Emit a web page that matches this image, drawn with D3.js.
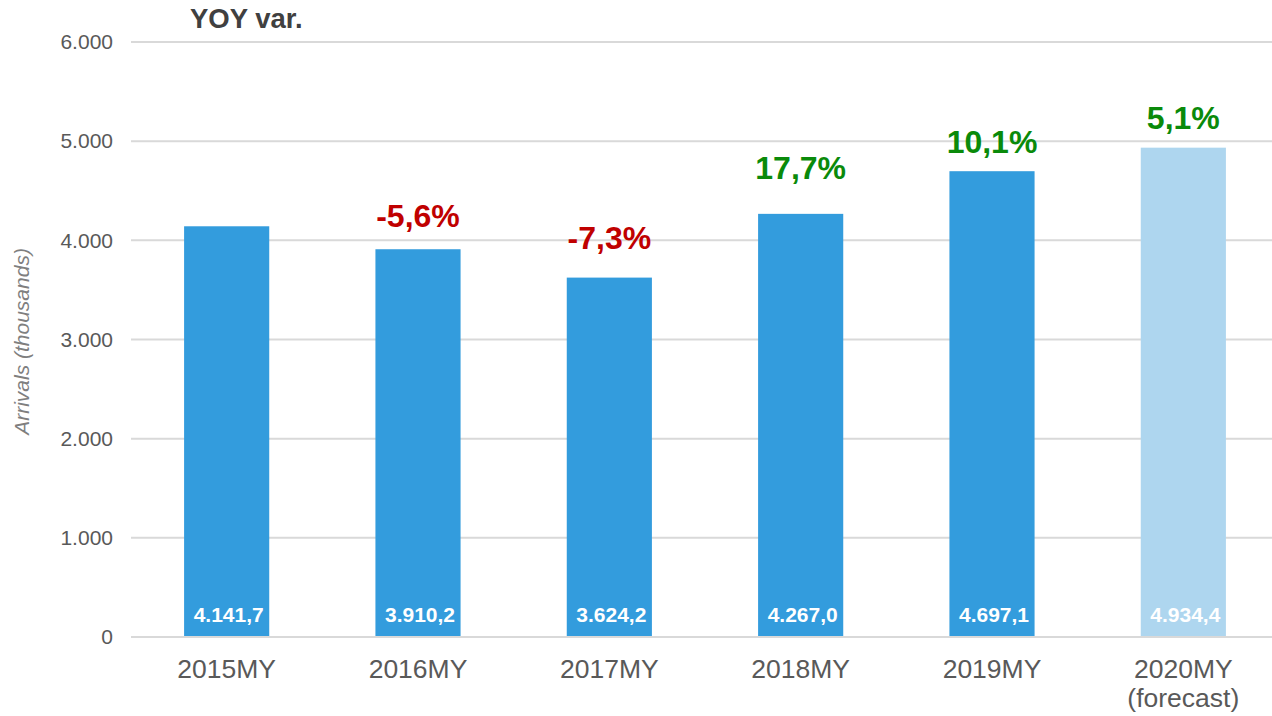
<html>
<head>
	<meta charset="UTF-8">
	<title>Arrivals</title>
	<style>
		body { margin: 0; background: #fff; }
		text { font-family: Arial, "Liberation Sans", sans-serif; }
	</style>
</head>
<body>
	<script src="https://cdnjs.cloudflare.com/ajax/libs/d3/7.8.5/d3.min.js"></script>
	<script>
		// data
		var years = ["2015MY", "2016MY", "2017MY", "2018MY", "2019MY", "2020MY"];
		var arrivals = [4141.7, 3910.2, 3624.2, 4267.0, 4697.1, 4934.4];
		var yoy = [null, -5.6, -7.3, 17.7, 10.1, 5.1];
		var yoyAnchor = [null, 4245, 4023, 4729, 4991, 5233]; // hidden series the labels sit on
		var forecast = [false, false, false, false, false, true];
		var yTicks = [0, 1000, 2000, 3000, 4000, 5000, 6000];

		var width = 1272, height = 716;
		var margin = {top: 42, right: -7, bottom: 79, left: 131};
		var innerW = width - margin.left - margin.right,
			innerH = height - margin.top - margin.bottom;

		var fmt = d3.formatLocale({decimal: ",", thousands: ".", grouping: [3], currency: ["", ""], minus: "-"});
		var fmtVal = fmt.format(",.1f");
		var fmtTick = fmt.format(",.0f");
		var fmtPct = fmt.format(".1f");

		var x = d3.scaleBand()
			.domain(years)
			.range([0, innerW])
			.paddingInner(0.555)
			.paddingOuter(0.2775);
		var y = d3.scaleLinear()
			.domain([0, 6000])
			.range([innerH, 0]);

		var svg = d3.select("body").append("svg")
			.attr("width", width)
			.attr("height", height);
		var g = svg.append("g")
			.attr("transform", "translate(" + margin.left + "," + margin.top + ")");

		// gridlines
		g.append("g")
			.selectAll("line")
			.data(yTicks)
			.enter().append("line")
			.attr("x1", 0)
			.attr("x2", innerW)
			.attr("y1", function(d) { return y(d); })
			.attr("y2", function(d) { return y(d); })
			.attr("stroke", "#d9d9d9")
			.attr("stroke-width", 2);

		// y axis
		var yAxis = g.append("g")
			.call(d3.axisLeft(y).tickValues(yTicks).tickFormat(fmtTick).tickSize(0).tickPadding(18));
		yAxis.select(".domain").remove();
		yAxis.selectAll("text")
			.attr("font-size", 21)
			.attr("fill", "#595959")
			.style("font-family", "Arial, 'Liberation Sans', sans-serif");

		svg.append("text")
			.attr("transform", "translate(29," + (margin.top + innerH / 2 + 2) + ") rotate(-90)")
			.attr("text-anchor", "middle")
			.attr("font-size", 21)
			.attr("font-style", "italic")
			.attr("fill", "#7f7f7f")
			.text("Arrivals (thousands)");

		var data = years.map(function(d, i) {
			return {year: d, v: arrivals[i], pct: yoy[i], at: yoyAnchor[i], fc: forecast[i]};
		});

		// bars
		g.selectAll(".bar")
			.data(data)
			.enter().append("rect")
			.attr("class", "bar")
			.attr("x", function(d) { return x(d.year); })
			.attr("y", function(d) { return y(d.v); })
			.attr("width", x.bandwidth())
			.attr("height", function(d) { return innerH - y(d.v) - 1; })
			.attr("fill", function(d) { return d.fc ? "#aed6ef" : "#339cdd"; });

		// values inside bars
		g.selectAll(".val")
			.data(data)
			.enter().append("text")
			.attr("class", "val")
			.attr("x", function(d) { return x(d.year) + x.bandwidth() / 2 + 2; })
			.attr("y", innerH - 15)
			.attr("text-anchor", "middle")
			.attr("font-size", 21)
			.attr("font-weight", "bold")
			.attr("fill", "#fff")
			.text(function(d) { return fmtVal(d.v); });

		// YOY labels
		g.selectAll(".pct")
			.data(data.filter(function(d) { return d.pct !== null; }))
			.enter().append("text")
			.attr("class", "pct")
			.attr("x", function(d) { return x(d.year) + x.bandwidth() / 2; })
			.attr("y", function(d) { return y(d.at); })
			.attr("dy", "0.35em")
			.attr("text-anchor", "middle")
			.attr("font-size", 32)
			.attr("font-weight", "bold")
			.attr("fill", function(d) { return d.pct < 0 ? "#c00000" : "#0a8a0a"; })
			.text(function(d) { return fmtPct(d.pct) + "%"; });

		// x axis labels
		var xl = g.selectAll(".xl")
			.data(data)
			.enter().append("text")
			.attr("class", "xl")
			.attr("x", function(d) { return x(d.year) + x.bandwidth() / 2; })
			.attr("y", innerH + 41)
			.attr("text-anchor", "middle")
			.attr("font-size", 26.5)
			.attr("fill", "#595959");
		xl.append("tspan").text(function(d) { return d.year; });
		xl.filter(function(d) { return d.fc; })
			.append("tspan")
			.attr("x", function(d) { return x(d.year) + x.bandwidth() / 2; })
			.attr("dy", 29)
			.text("(forecast)");

		svg.append("text")
			.attr("x", 190)
			.attr("y", 28)
			.attr("font-size", 27.5)
			.attr("font-weight", "bold")
			.attr("fill", "#404040")
			.text("YOY var.");
	</script>
</body>
</html>
